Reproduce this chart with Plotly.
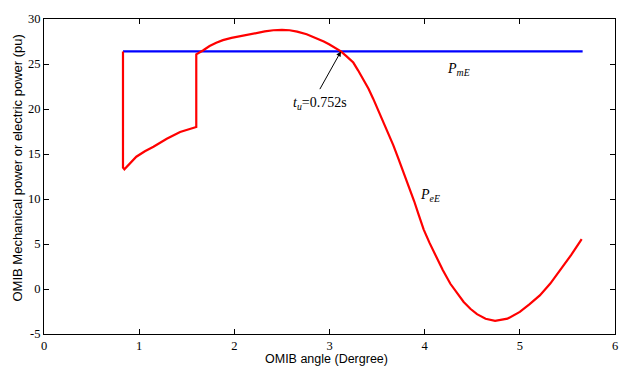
import plotly.graph_objects as go

# Mechanical power P_mE (constant)
x_blue = [0.83, 5.66]
y_blue = [26.4, 26.4]

# Electric power P_eE
x_red = [0.83, 0.83, 0.845, 0.90, 0.97, 1.06, 1.15, 1.29, 1.43, 1.60, 1.60, 1.67, 1.74, 1.81,
         1.88, 1.97, 2.06, 2.15, 2.23, 2.32, 2.41, 2.50, 2.58, 2.66, 2.76, 2.86, 2.94, 3.00,
         3.06, 3.12, 3.18, 3.25, 3.30, 3.355, 3.41, 3.46, 3.51, 3.565, 3.62, 3.67, 3.72, 3.775,
         3.83, 3.89, 3.94, 3.99, 4.05, 4.11, 4.19, 4.27, 4.34, 4.41, 4.48, 4.55, 4.64, 4.74,
         4.87, 5.00, 5.10, 5.21, 5.32, 5.42, 5.54, 5.65]
y_red = [26.4, 13.5, 13.3, 13.9, 14.7, 15.3, 15.8, 16.7, 17.45, 18.0, 26.07, 26.5, 27.0, 27.35,
         27.65, 27.9, 28.1, 28.3, 28.46, 28.62, 28.75, 28.8, 28.75, 28.6, 28.3, 27.9, 27.5, 27.17,
         26.82, 26.4, 25.85, 25.16, 24.3, 23.32, 22.25, 21.12, 19.9, 18.55, 17.25, 15.99, 14.6, 13.05,
         11.45, 9.75, 8.15, 6.6, 5.15, 3.85, 2.1, 0.58, -0.5, -1.44, -2.2, -2.8, -3.3, -3.53,
         -3.3, -2.55, -1.7, -0.71, 0.6, 2.04, 3.8, 5.53]

x_ticks = [0, 1, 2, 3, 4, 5, 6]
y_ticks = [-5, 0, 5, 10, 15, 20, 25, 30]

cross_x, cross_y = 3.12, 26.4
label_x, label_y = 2.89, 22.04

fig = go.Figure()
fig.add_trace(go.Scatter(x=x_blue, y=y_blue, mode="lines",
                         line=dict(color="#0000FF", width=2.2), showlegend=False))
fig.add_trace(go.Scatter(x=x_red, y=y_red, mode="lines",
                         line=dict(color="#FF0000", width=2.2), showlegend=False))

serif = "Liberation Serif"
sans = "Liberation Sans"

axis_common = dict(showline=True, linecolor="black", linewidth=1, mirror="ticks",
                   ticks="inside", ticklen=5, tickcolor="black", tickwidth=1,
                   showgrid=False, zeroline=False,
                   tickfont=dict(family=serif, size=12.5, color="black"))

fig.update_xaxes(range=[0, 6], tickvals=x_ticks, ticktext=[str(v) for v in x_ticks],
                 **axis_common)
fig.update_yaxes(range=[-5, 30], tickvals=y_ticks, ticktext=[str(v) for v in y_ticks],
                 **axis_common)

fig.add_annotation(x=cross_x, y=cross_y, ax=label_x, ay=label_y, axref="x", ayref="y",
                   xref="x", yref="y", text="", showarrow=True, arrowhead=2,
                   arrowsize=1, arrowwidth=1, arrowcolor="black")
fig.add_annotation(x=2.9, y=20.6, xref="x", yref="y", showarrow=False,
                   text="<i>t</i><sub><i>u</i></sub>=0.752s",
                   font=dict(family=serif, size=14, color="black"))
fig.add_annotation(x=4.21, y=24.4, xref="x", yref="y", xanchor="left", showarrow=False,
                   text="<i>P</i><sub><i>mE</i></sub>",
                   font=dict(family=serif, size=14, color="black"))
fig.add_annotation(x=3.93, y=10.4, xref="x", yref="y", xanchor="left", showarrow=False,
                   text="<i>P</i><sub><i>eE</i></sub>",
                   font=dict(family=serif, size=14, color="black"))

fig.add_annotation(xref="paper", yref="paper", x=0.495, y=0, yshift=-25, yanchor="middle",
                   showarrow=False, text="OMIB angle (Dergree)",
                   font=dict(family=sans, size=12.5, color="black"))
fig.add_annotation(xref="paper", yref="paper", x=0, xshift=-27, y=0.5, yshift=8,
                   xanchor="center", yanchor="middle", textangle=-90, showarrow=False,
                   text="OMIB Mechanical power or electric power (pu)",
                   font=dict(family=sans, size=13, color="black"))

fig.update_layout(width=633, height=366, margin=dict(l=44, r=18, t=16, b=32),
                  paper_bgcolor="white", plot_bgcolor="white")

fig.write_html("out.html")
